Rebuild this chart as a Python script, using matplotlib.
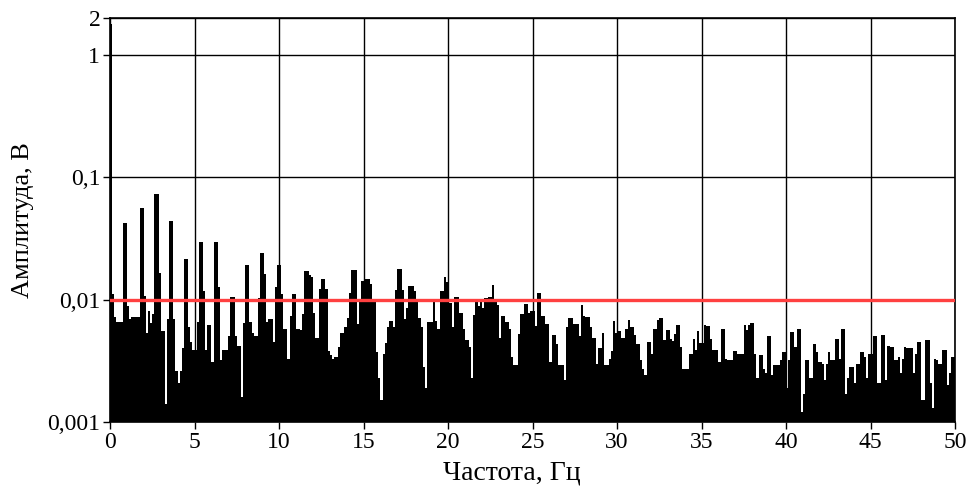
import numpy as np
import matplotlib.pyplot as plt
from matplotlib.ticker import FixedLocator, NullLocator

# amplitude spectrum, bin width 0.125 Hz, 8 bins per row (one row = 1 Hz)
df = 0.125
amp = [
    1.8, 0.0112, 0.0072, 0.0066, 0.0066, 0.0066, 0.042, 0.042,
    0.0088, 0.0069, 0.0072, 0.0072, 0.0072, 0.0072, 0.056, 0.056,
    0.0108, 0.0053, 0.0081, 0.0064, 0.0077, 0.073, 0.073, 0.0166,
    0.0055, 0.0055, 0.0014, 0.007, 0.044, 0.044, 0.007, 0.0026,
    0.0021, 0.0026, 0.004, 0.0216, 0.0216, 0.006, 0.0045, 0.0039,
    # 5 Hz
    0.0039, 0.0066, 0.0296, 0.0296, 0.0118, 0.0039, 0.0062, 0.0062,
    0.0031, 0.0296, 0.0296, 0.0126, 0.0032, 0.0039, 0.0039, 0.0039,
    0.005, 0.0106, 0.0106, 0.005, 0.0042, 0.0042, 0.0016, 0.0065,
    0.0193, 0.0193, 0.0066, 0.0053, 0.005, 0.005, 0.0104, 0.024,
    0.024, 0.0162, 0.0066, 0.007, 0.007, 0.0045, 0.0126, 0.0193,
    # 10 Hz
    0.0193, 0.0112, 0.0058, 0.0058, 0.0033, 0.0074, 0.0112, 0.0112,
    0.0058, 0.0058, 0.0056, 0.0076, 0.017, 0.017, 0.016, 0.0152,
    0.0078, 0.0049, 0.0049, 0.0122, 0.0148, 0.0148, 0.0122, 0.0038,
    0.0035, 0.0033, 0.0034, 0.0034, 0.0041, 0.0053, 0.0053, 0.006,
    0.0071, 0.0113, 0.0175, 0.0175, 0.0175, 0.0063, 0.0102, 0.0142,
    # 15 Hz
    0.0146, 0.0146, 0.0146, 0.0133, 0.0099, 0.0099, 0.0037, 0.0023,
    0.0015, 0.0036, 0.0044, 0.006, 0.0067, 0.0067, 0.006, 0.012,
    0.0178, 0.0178, 0.012, 0.0069, 0.0085, 0.013, 0.013, 0.0129,
    0.0118, 0.0099, 0.0071, 0.006, 0.0028, 0.0019, 0.0066, 0.0066,
    0.0066, 0.0099, 0.0067, 0.0058, 0.0118, 0.0118, 0.0153, 0.0138,
    # 20 Hz
    0.0093, 0.0093, 0.006, 0.0105, 0.0105, 0.0078, 0.0078, 0.0057,
    0.0047, 0.0047, 0.0041, 0.0023, 0.0075, 0.0099, 0.0088, 0.01,
    0.0085, 0.0104, 0.0104, 0.0105, 0.0106, 0.0131, 0.0099, 0.009,
    0.0049, 0.0074, 0.0074, 0.0066, 0.0066, 0.0057, 0.0034, 0.0029,
    0.0029, 0.0052, 0.0077, 0.0077, 0.0092, 0.0092, 0.0078, 0.008,
    # 25 Hz
    0.008, 0.0061, 0.0114, 0.0114, 0.0074, 0.0074, 0.0063, 0.0063,
    0.0031, 0.0051, 0.0051, 0.0043, 0.0029, 0.0029, 0.0029, 0.0022,
    0.006, 0.0071, 0.0071, 0.0063, 0.0063, 0.0063, 0.005, 0.009,
    0.0074, 0.0072, 0.0072, 0.006, 0.0049, 0.0049, 0.003, 0.004,
    0.004, 0.0053, 0.0029, 0.0029, 0.0033, 0.0038, 0.0067, 0.0053,
    # 30 Hz
    0.0055, 0.0055, 0.0049, 0.0049, 0.0058, 0.0068, 0.006, 0.006,
    0.0051, 0.0043, 0.0043, 0.0032, 0.0027, 0.0024, 0.0045, 0.0045,
    0.0036, 0.0058, 0.0058, 0.0068, 0.0071, 0.0071, 0.0047, 0.0056,
    0.0056, 0.0048, 0.0046, 0.0052, 0.0062, 0.0062, 0.0041, 0.0027,
    0.0027, 0.0027, 0.0036, 0.0036, 0.0048, 0.0039, 0.0055, 0.0044,
    # 35 Hz
    0.0044, 0.0062, 0.0061, 0.0061, 0.0048, 0.0039, 0.0039, 0.0039,
    0.0031, 0.0057, 0.0057, 0.0033, 0.0032, 0.0032, 0.0032, 0.0038,
    0.0038, 0.0036, 0.0036, 0.0036, 0.0062, 0.0056, 0.0062, 0.0064,
    0.0064, 0.0036, 0.0023, 0.0035, 0.0035, 0.0027, 0.0025, 0.005,
    0.005, 0.0024, 0.0029, 0.0029, 0.0029, 0.0032, 0.0037, 0.0037,
    # 40 Hz
    0.0019, 0.0032, 0.0054, 0.0054, 0.0041, 0.0058, 0.0058, 0.0012,
    0.0017, 0.0032, 0.0032, 0.0023, 0.0023, 0.0043, 0.0037, 0.0031,
    0.0031, 0.003, 0.0022, 0.003, 0.0037, 0.0032, 0.0032, 0.0048,
    0.0048, 0.0033, 0.0058, 0.0058, 0.0017, 0.0023, 0.0028, 0.0028,
    0.0021, 0.003, 0.003, 0.0037, 0.0037, 0.0034, 0.0023, 0.0036,
    # 45 Hz
    0.0036, 0.005, 0.005, 0.0021, 0.0021, 0.0051, 0.0051, 0.0022,
    0.0042, 0.0041, 0.0041, 0.0032, 0.0032, 0.0034, 0.0025, 0.0033,
    0.0041, 0.004, 0.004, 0.004, 0.0025, 0.0036, 0.0045, 0.0045,
    0.0015, 0.0015, 0.0047, 0.0047, 0.0021, 0.0013, 0.0033, 0.0032,
    0.003, 0.003, 0.0039, 0.0039, 0.002, 0.0025, 0.0034, 0.0034,
]
threshold = 0.01

x_ticks = [0, 5, 10, 15, 20, 25, 30, 35, 40, 45, 50]
y_ticks = [0.001, 0.01, 0.1, 1, 2]
y_labels = ["0,001", "0,01", "0,1", "1", "2"]

plt.rcParams['font.family'] = ['Liberation Serif', 'DejaVu Serif']

fig = plt.figure(figsize=(9.73, 4.93), dpi=100)
ax = fig.add_axes([110 / 973, 1 - 422 / 493, 845 / 973, 404 / 493])

edges = np.arange(len(amp) + 1) * df
ax.set_yscale('log')
ax.stairs(amp, edges, fill=True, color='black', baseline=0.001, zorder=2)
ax.axhline(threshold, color='#ff4040', lw=2.4, zorder=3)

ax.set_xlim(0, 50)
ax.set_ylim(0.001, 2)
ax.xaxis.set_major_locator(FixedLocator(x_ticks))
ax.yaxis.set_major_locator(FixedLocator(y_ticks))
ax.yaxis.set_minor_locator(NullLocator())
ax.set_yticklabels(y_labels)
ax.grid(True, color='black', lw=1.0, zorder=1)
ax.set_axisbelow(True)
for s in ax.spines.values():
    s.set_color('black')
    s.set_linewidth(1.2)
ax.tick_params(direction='out', length=5, width=1, labelsize=17, pad=2)

ax.set_xlabel("Частота, Гц", fontsize=20)
ax.set_ylabel("Амплитуда, В", fontsize=19)
ax.xaxis.set_label_coords(0.475, -0.095)
ax.yaxis.set_label_coords(-0.09, 0.5)

fig.savefig("out.png", dpi=100)
